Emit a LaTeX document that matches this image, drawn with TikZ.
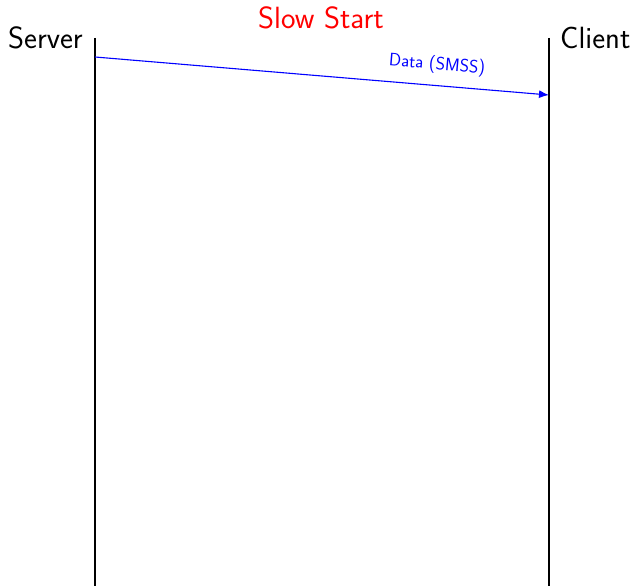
\documentclass[tikz,border=0pt]{standalone}
\usetikzlibrary{arrows.meta}
\begin{document}
\begin{tikzpicture}[x=1pt,y=1pt,
  lifeline/.style={line width=2.4pt},
  bigtext/.style={font=\sffamily\fontsize{30.7}{36}\selectfont, inner sep=0pt},
  msg/.style={blue, line width=1.1pt, -{Latex[length=10pt,width=8pt]}},
  msglabel/.style={blue, font=\sffamily\fontsize{18}{21}\selectfont, inner sep=0pt}]
\useasboundingbox (0,0) rectangle (633,-586);
% lifelines
\coordinate (s1) at (95,-38);
\coordinate (s2) at (95,-586);
\coordinate (c1) at (549,-38);
\coordinate (c2) at (549,-586);
\draw[lifeline] (s1) -- (s2);
\draw[lifeline] (c1) -- (c2);
% labels
\node[bigtext, anchor=base east] (server) at (83,-49) {Server};
\node[bigtext, anchor=base west] (client) at (560,-49) {Client};
\node[bigtext, red, anchor=base] (title) at (321,-29) {Slow Start};
% message
\coordinate (a) at (95,-57);
\coordinate (b) at (549,-95);
\draw[msg] (a) -- (b);
\node[msglabel, rotate=-4.8] (lbl) at (437,-65) {Data (SMSS)};
\end{tikzpicture}
\end{document}
